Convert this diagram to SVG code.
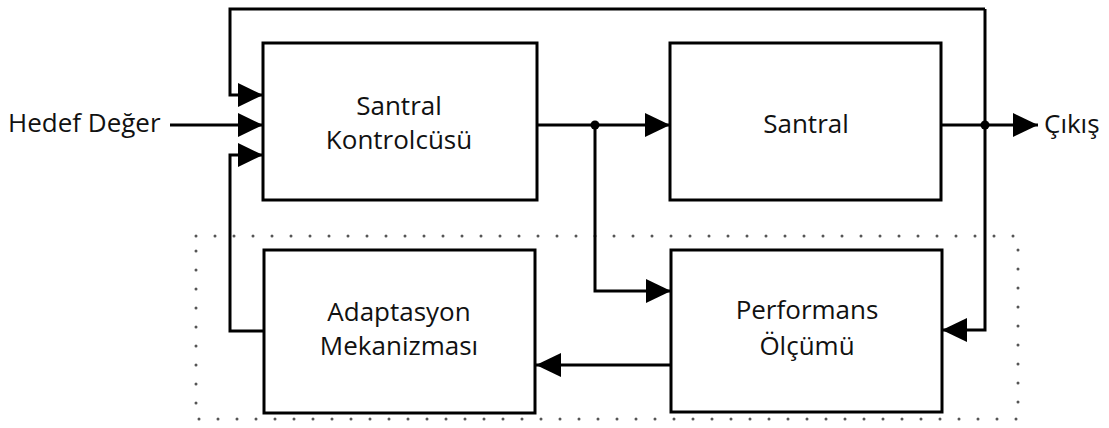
<svg xmlns="http://www.w3.org/2000/svg" width="1109" height="428" viewBox="0 0 1109 428">
<style>
.box{fill:#fff;stroke:#000;stroke-width:3}
.ln{fill:none;stroke:#000;stroke-width:3;marker-end:url(#ah)}
.pl{fill:none;stroke:#000;stroke-width:3}
.t{font-family:"Open Sans","Liberation Sans",sans-serif;font-size:26px;fill:#111;text-anchor:middle}
.dot{fill:none;stroke:#555;stroke-width:3;stroke-linecap:round;stroke-dasharray:0 19}
</style>
<defs>
<marker id="ah" markerUnits="userSpaceOnUse" markerWidth="26" markerHeight="24" refX="25" refY="12" orient="auto">
<path d="M0,0 L25,12 L0,24 z" fill="#000"/>
</marker>
</defs>
<rect class="dot" x="196" y="236" width="822" height="183"/>
<g id="connectors">
<path class="pl" d="M985,9 V125"/>
<path class="ln" d="M985,125 V330 H942"/>
<path class="ln" d="M985,9 H230 V95 H263"/>
<path class="ln" d="M170,125 H263"/>
<path class="ln" d="M264,331 H230 V155 H263"/>
<path class="ln" d="M537,125 H670"/>
<path class="ln" d="M595,125 V291 H671"/>
<path class="ln" d="M671,365 H536"/>
<path class="ln" d="M941,125 H1038"/>
<circle cx="595" cy="125" r="4.5" fill="#000"/>
<circle cx="985" cy="125" r="4.5" fill="#000"/>
</g>
<g id="kontrolcu">
<rect class="box" x="263" y="43" width="274" height="157"/>
<text class="t" x="399" y="115">Santral</text>
<text class="t" x="399" y="149">Kontrolcüsü</text>
</g>
<g id="santral">
<rect class="box" x="670" y="43" width="271" height="157"/>
<text class="t" x="806" y="133">Santral</text>
</g>
<g id="adaptasyon">
<rect class="box" x="264" y="250" width="271" height="163"/>
<text class="t" x="399" y="321">Adaptasyon</text>
<text class="t" x="399" y="355">Mekanizması</text>
</g>
<g id="performans">
<rect class="box" x="671" y="250" width="271" height="162"/>
<text class="t" x="807" y="319">Performans</text>
<text class="t" x="807" y="355">Ölçümü</text>
</g>
<g id="hedef">
<text class="t" x="8" y="132" style="text-anchor:start">Hedef Değer</text>
</g>
<g id="cikis">
<text class="t" x="1044" y="133" style="text-anchor:start">Çıkış</text>
</g>
</svg>
